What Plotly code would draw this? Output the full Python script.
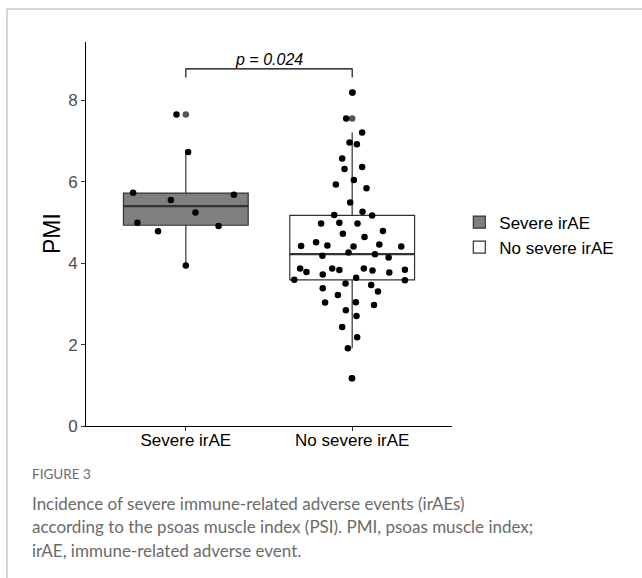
import plotly.graph_objects as go

# ---------------- data ----------------
groups = ["Severe irAE", "No severe irAE"]
group_pos = [0, 1]

severe_pmi = [7.65, 6.73, 5.73, 5.55, 5.68, 5.24, 4.99, 4.78, 4.91, 3.94]
severe_jitter = [-0.056, 0.014, -0.317, -0.090, 0.289, 0.058, -0.291, -0.167, 0.197, 0.0]

nosevere_pmi = [8.19, 7.55, 7.21, 6.96, 6.92, 6.57, 6.31, 6.36, 6.04, 5.93,
                5.84, 5.49, 5.18, 5.26, 5.17, 4.97, 4.99, 4.97, 4.72, 4.64,
                4.79, 4.42, 4.51, 4.43, 4.41, 4.46, 4.41, 4.18, 4.26, 4.22,
                4.14, 3.87, 3.78, 3.72, 3.87, 3.83, 3.64, 3.87, 3.82, 3.77,
                3.84, 3.59, 3.58, 3.50, 3.38, 3.46, 3.30, 3.22, 3.03, 3.04,
                2.97, 2.84, 2.70, 2.43, 2.18, 1.91, 1.17]
nosevere_jitter = [0.002, -0.036, 0.060, -0.016, 0.028, -0.060, -0.046, 0.060, 0.010, -0.098,
                   0.086, -0.012, -0.108, 0.062, 0.120, -0.187, -0.077, 0.032, -0.056, 0.074,
                   0.185, -0.307, -0.217, -0.149, 0.008, 0.163, 0.295, -0.179, -0.022, 0.137,
                   0.219, -0.313, -0.275, -0.177, -0.120, -0.077, 0.024, 0.070, 0.122, 0.223,
                   0.317, -0.348, 0.317, -0.040, -0.177, 0.114, 0.155, -0.086, -0.163, 0.022,
                   0.131, -0.038, 0.026, -0.060, 0.030, -0.026, -0.002]

# box statistics
q1 = [4.93, 3.59]
median = [5.40, 4.22]
q3 = [5.72, 5.17]
lower_whisker = [3.94, 1.91]
upper_whisker = [6.73, 7.21]
outliers = [[7.65], [7.55, 8.19, 1.17]]

box_fill = ["#7f7f7f", "#ffffff"]
p_label = "p = 0.024"
bracket_y = 8.77
bracket_drop = 8.56
y_title = "PMI"

caption_title = "FIGURE 3"
caption_lines = [
    "Incidence of severe immune-related adverse events (irAEs)",
    "according to the psoas muscle index (PSI). PMI, psoas muscle index;",
    "irAE, immune-related adverse event.",
]

# ---------------- figure ----------------
BOX_W = 0.75
fig = go.Figure()

for i, g in enumerate(groups):
    fig.add_trace(go.Box(
        name=g, x=[group_pos[i]],
        q1=[q1[i]], median=[median[i]], q3=[q3[i]],
        lowerfence=[lower_whisker[i]], upperfence=[upper_whisker[i]],
        width=BOX_W, whiskerwidth=0, boxpoints=False,
        fillcolor=box_fill[i], line=dict(color="#333333", width=1.2),
        showlegend=True, legendgroup=g,
    ))

# thicker median lines
for i in range(2):
    fig.add_trace(go.Scatter(
        x=[group_pos[i] - BOX_W / 2, group_pos[i] + BOX_W / 2], y=[median[i], median[i]],
        mode="lines", line=dict(color="#333333", width=2.2),
        showlegend=False, hoverinfo="skip"))

# outliers (gray)
for i in range(2):
    fig.add_trace(go.Scatter(
        x=[group_pos[i]] * len(outliers[i]), y=outliers[i], mode="markers",
        marker=dict(color="#555555", size=6.5), showlegend=False, hoverinfo="skip"))

# jittered points
fig.add_trace(go.Scatter(
    x=[group_pos[0] + j for j in severe_jitter], y=severe_pmi, mode="markers",
    marker=dict(color="black", size=6.5), showlegend=False))
fig.add_trace(go.Scatter(
    x=[group_pos[1] + j for j in nosevere_jitter], y=nosevere_pmi, mode="markers",
    marker=dict(color="black", size=6.5), showlegend=False))

# significance bracket
fig.add_trace(go.Scatter(
    x=[group_pos[0], group_pos[0], group_pos[1], group_pos[1]],
    y=[bracket_drop, bracket_y, bracket_y, bracket_drop],
    mode="lines", line=dict(color="black", width=1.1),
    showlegend=False, hoverinfo="skip"))
fig.add_annotation(
    x=(group_pos[0] + group_pos[1]) / 2, y=bracket_y, text="<i>" + p_label + "</i>",
    showarrow=False, yanchor="bottom", yshift=-1,
    font=dict(size=16, color="black", family="Liberation Sans"))

# layout geometry (pixels)
W, H = 642, 578
L, R, T, B = 86, 190, 42, 152
pw, ph = W - L - R, H - T - B

def px_x(x):
    return (x - L) / pw

def px_y(y):
    return (H - B - y) / ph

# y-axis title
fig.add_annotation(xref="paper", yref="paper", x=px_x(52), y=px_y(234),
                   xanchor="center", yanchor="middle", showarrow=False, textangle=-90,
                   text=y_title, font=dict(size=23, color="black"))

# frame lines
fig.add_shape(type="line", xref="paper", yref="paper",
              x0=px_x(7), x1=px_x(660), y0=px_y(9), y1=px_y(9),
              line=dict(color="#c8c8c8", width=1.5))
fig.add_shape(type="line", xref="paper", yref="paper",
              x0=px_x(7), x1=px_x(7), y0=px_y(9), y1=px_y(600),
              line=dict(color="#c8c8c8", width=1.5))

# caption
fig.add_annotation(xref="paper", yref="paper", x=px_x(30), y=px_y(474),
                   xanchor="left", yanchor="middle", showarrow=False,
                   text=caption_title, font=dict(family="Lato", size=13.5, color="#6b6b6b"))
for k, line in enumerate(caption_lines):
    fig.add_annotation(xref="paper", yref="paper", x=px_x(30), y=px_y(503 + 23.5 * k),
                       xanchor="left", yanchor="middle", showarrow=False,
                       text=line, font=dict(family="Lato", size=17, color="#6b6b6b"))

fig.update_layout(
    width=W, height=H,
    margin=dict(l=L, r=R, t=T, b=B, pad=0),
    paper_bgcolor="white", plot_bgcolor="white",
    font=dict(family="Liberation Sans", size=17, color="black"),
    legend=dict(x=1.02, y=px_y(235), xanchor="left", yanchor="middle",
                font=dict(size=17), tracegroupgap=0, itemwidth=30,
                bgcolor="rgba(0,0,0,0)"),
    xaxis=dict(range=[-0.6, 1.6], tickvals=group_pos, ticktext=groups,
               showgrid=False, zeroline=False, showline=True, linecolor="black",
               linewidth=1, ticks="outside", ticklen=4, tickcolor="#333333",
               ticklabelstandoff=-5,
               tickfont=dict(size=17, color="black")),
    yaxis=dict(range=[0, 9.43], tickvals=[0, 2, 4, 6, 8],
               showgrid=False, zeroline=False, showline=True, linecolor="black",
               linewidth=1, ticks="outside", ticklen=4, tickcolor="#333333",
               tickfont=dict(size=17, color="#4d4d4d")),
)

fig.write_html("out.html", config={"displayModeBar": False},
               post_script="document.body.style.margin='0';document.body.style.padding='0';")
